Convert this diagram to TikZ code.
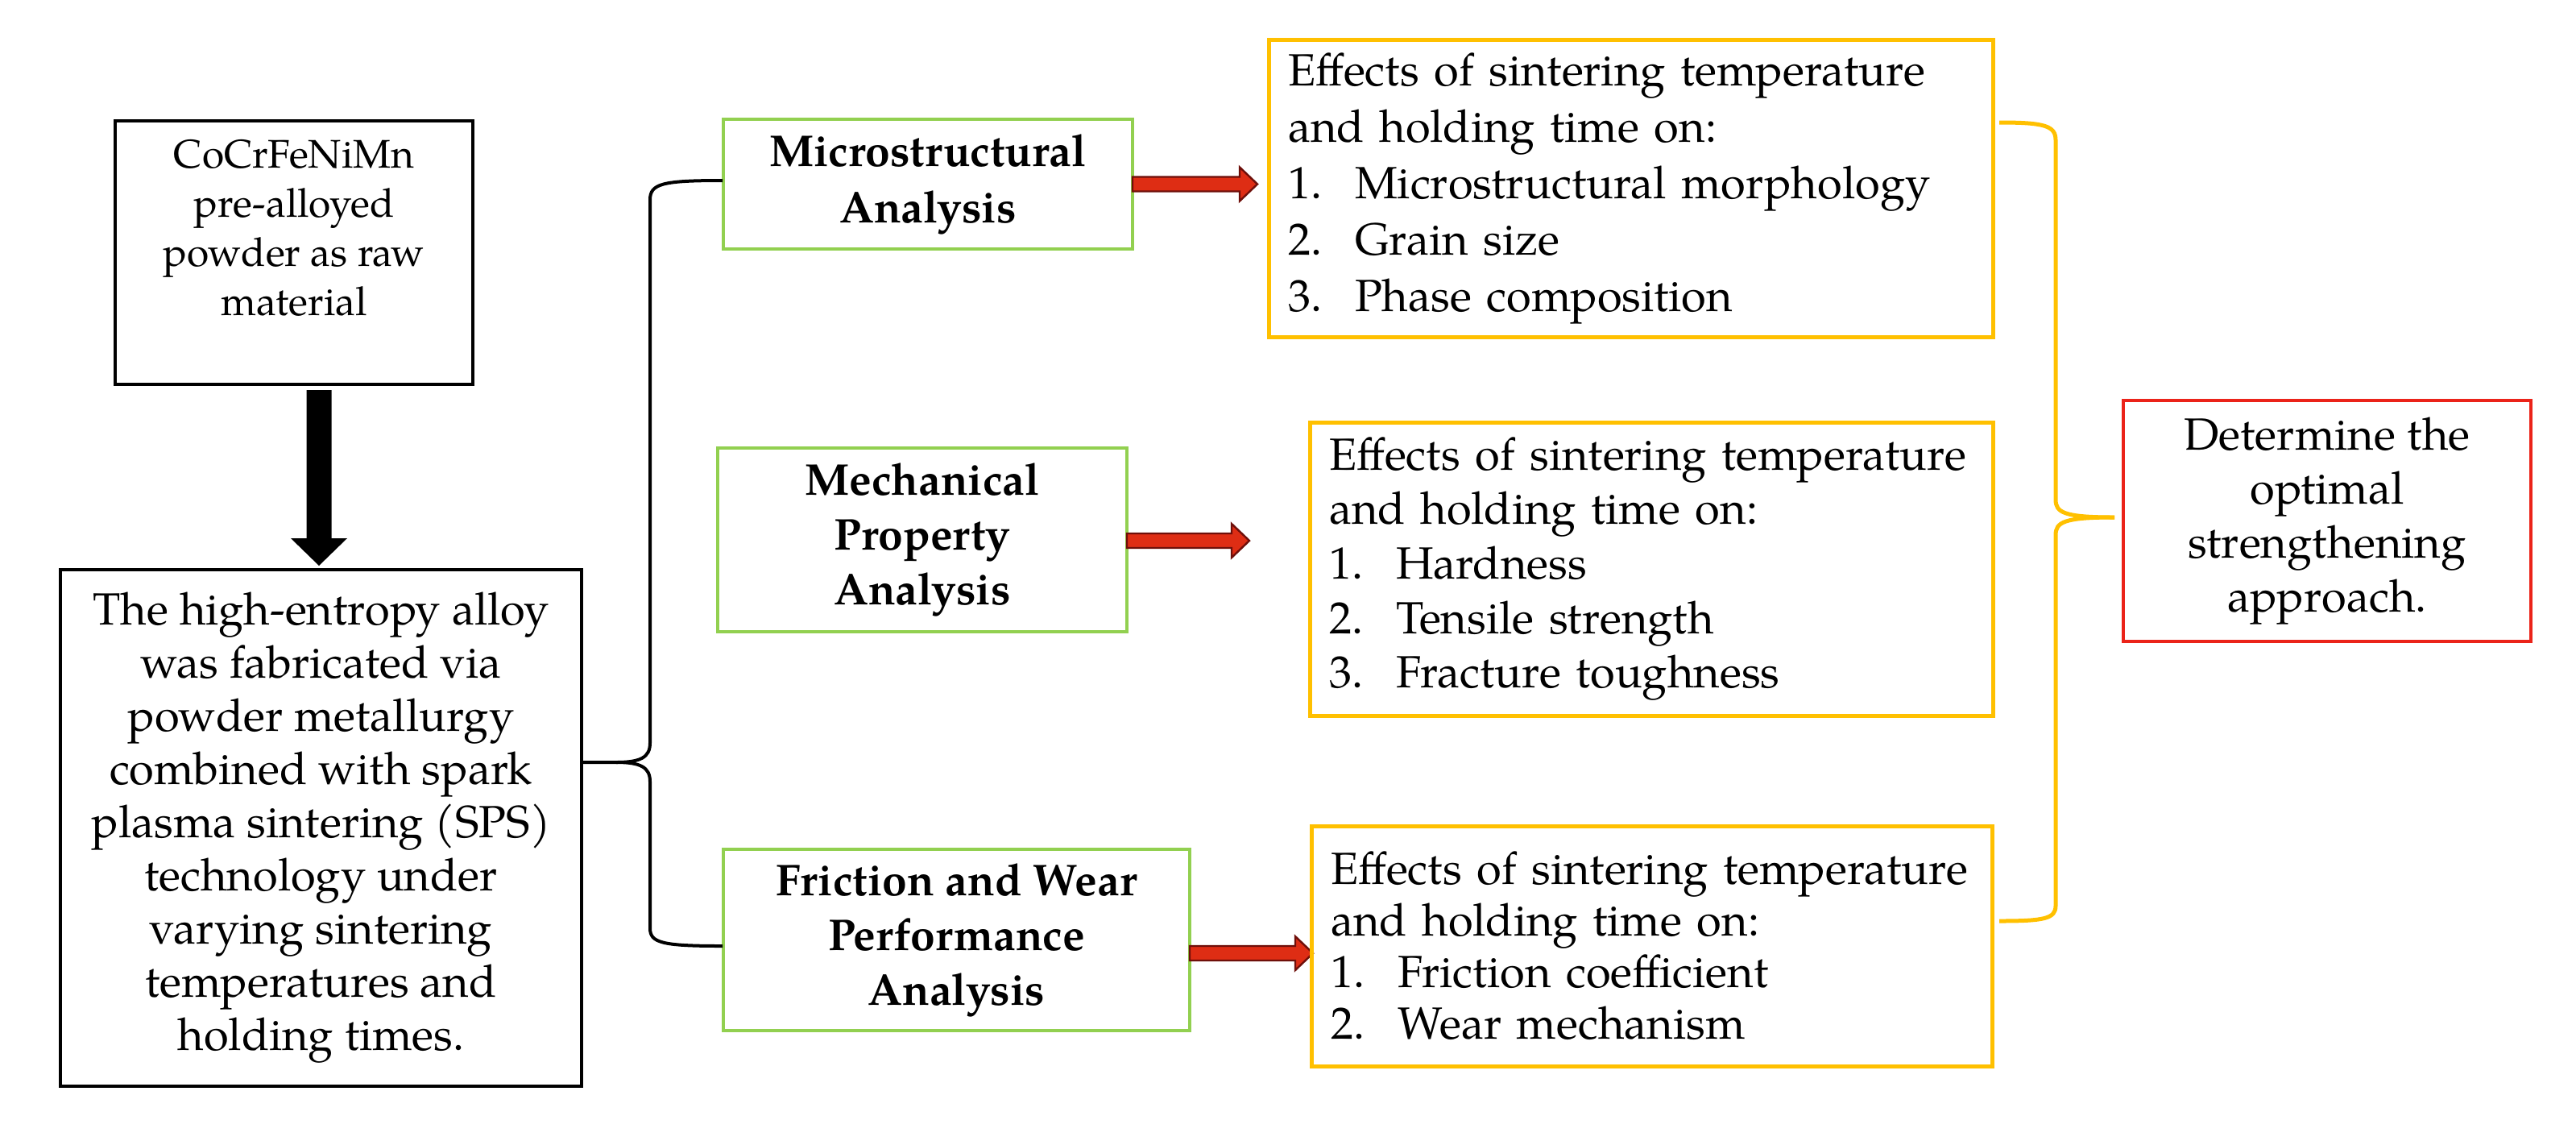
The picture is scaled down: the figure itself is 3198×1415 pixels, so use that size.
\documentclass[tikz,border=0pt]{standalone}
\usepackage{fontspec}
\setmainfont{TeX Gyre Pagella}
\usetikzlibrary{calc}
\definecolor{boxgreen}{RGB}{146,208,80}
\definecolor{boxyellow}{RGB}{255,192,0}
\definecolor{boxred}{RGB}{235,35,25}
\definecolor{arrred}{RGB}{222,45,20}
\definecolor{arrdark}{RGB}{110,15,10}
\newcommand\myblockarrow[2]{%
  \filldraw[arrowstyle] ($(#1)+(0,-9)$) -- ($(#2)+(-22,-9)$) -- ($(#2)+(-22,-21)$) -- (#2)
    -- ($(#2)+(-22,21)$) -- ($(#2)+(-22,9)$) -- ($(#1)+(0,9)$) -- cycle;}
\begin{document}
\begin{tikzpicture}[x=0.25pt,y=-0.25pt,
  blackbox/.style={draw=black,line width=1pt,inner sep=0pt},
  greenbox/.style={draw=boxgreen,line width=1pt,align=center,inner sep=0pt,
     font=\fontsize{13.8}{17.5}\selectfont\bfseries},
  yellowbox/.style={draw=boxyellow,line width=1.25pt,align=left,inner xsep=6pt,inner ysep=0pt},
  redbox/.style={draw=boxred,line width=1.2pt,align=center,inner sep=0pt,
     font=\fontsize{14}{16.75}\selectfont},
  arrowstyle/.style={fill=arrred,draw=arrdark,line width=0.6pt,line join=miter},
  bracek/.style={draw=black,line width=1pt},
  bracey/.style={draw=boxyellow,line width=1.25pt},
]
\useasboundingbox (0,0) rectangle (3198,1415);

% left column
\node[blackbox,minimum width=111pt,minimum height=81.75pt] (raw) at (365,313.5) {};
\node[align=center,font=\fontsize{12.4}{15.25}\selectfont,inner sep=0pt] (rawtext) at (365,282.5)
  {CoCrFeNiMn\\pre-alloyed\\powder as raw\\material};
\node[blackbox,minimum width=161.75pt,minimum height=160.25pt,align=center,
      font=\fontsize{14}{16.5}\selectfont] (hea) at (398.5,1027.5)
  {The high-entropy alloy\\was fabricated via\\powder metallurgy\\combined with spark\\plasma sintering (SPS)\\technology under\\varying sintering\\temperatures and\\holding times.};

% black arrow
\coordinate (dn1) at (396,484);
\coordinate (dn2) at (396,702);
\fill[black] ($(dn1)+(-15.5,0)$) -- ($(dn1)+(15.5,0)$) -- ($(dn2)+(15.5,-34)$) -- ($(dn2)+(35,-34)$)
   -- (dn2) -- ($(dn2)+(-35,-34)$) -- ($(dn2)+(-15.5,-34)$) -- cycle;

% green boxes
\node[greenbox,minimum width=127pt,minimum height=40.25pt] (g1) at (1152,228.5)
  {Microstructural\\Analysis};
\node[greenbox,minimum width=127pt,minimum height=57pt,font=\fontsize{13.8}{17}\selectfont\bfseries] (g2) at (1145,670)
  {Mechanical\\Property\\Analysis};
\node[greenbox,minimum width=144.75pt,minimum height=56.25pt,font=\fontsize{13.8}{17}\selectfont\bfseries] (g3) at (1187.5,1166.5)
  {Friction and Wear\\Performance\\Analysis};

% left brace
\coordinate (lbtip) at (722,946);
\coordinate (lbtop) at (897,224);
\coordinate (lbbot) at (897,1174);
\draw[bracek] (lbtop) .. controls (822,224) and (807,228) .. (807,248) -- (807,922)
   .. controls (807,940) and (795,946) .. (765,946) -- (lbtip);
\draw[bracek] (765,946) .. controls (795,946) and (807,952) .. (807,970) -- (807,1152)
   .. controls (807,1170) and (822,1174) .. (lbbot);

% red arrows
\coordinate (a1s) at (1406,228.5);
\coordinate (a1e) at (1561,228.5);
\coordinate (a2s) at (1399,671);
\coordinate (a2e) at (1551,671);
\coordinate (a3s) at (1477,1183);
\coordinate (a3e) at (1630,1183);
\myblockarrow{a1s}{a1e}
\myblockarrow{a2s}{a2e}
\myblockarrow{a3s}{a3e}

% yellow boxes
\node[yellowbox,text width=212.75pt,minimum height=92.25pt,font=\fontsize{14}{17.5}\selectfont] (y1) at (2024.5,233.5)
  {Effects of sintering temperature\\and holding time on:\\
   \makebox[20.75pt][l]{1.}Microstructural morphology\\
   \makebox[20.75pt][l]{2.}Grain size\\
   \makebox[20.75pt][l]{3.}Phase composition};
\node[yellowbox,text width=200pt,minimum height=91pt,font=\fontsize{14}{16.9}\selectfont] (y2) at (2050,706)
  {Effects of sintering temperature\\and holding time on:\\
   \makebox[20.75pt][l]{1.}Hardness\\
   \makebox[20.75pt][l]{2.}Tensile strength\\
   \makebox[20.75pt][l]{3.}Fracture toughness};
\node[yellowbox,text width=199.25pt,minimum height=74.5pt,font=\fontsize{14}{16}\selectfont] (y3) at (2050.5,1174)
  {Effects of sintering temperature\\and holding time on:\\
   \makebox[20.75pt][l]{1.}Friction coefficient\\
   \makebox[20.75pt][l]{2.}Wear mechanism};

% yellow brace
\coordinate (ybtop) at (2482,152);
\coordinate (ybbot) at (2482,1143);
\coordinate (ybtip) at (2625,642);
\draw[bracey] (ybtop) .. controls (2538,152) and (2552,156) .. (2552,174) -- (2552,620)
   .. controls (2552,636) and (2562,642) .. (ybtip);
\draw[bracey] (ybtip) .. controls (2562,642) and (2552,648) .. (2552,664) -- (2552,1124)
   .. controls (2552,1140) and (2538,1143) .. (ybbot);

% red box
\node[redbox,minimum width=126.5pt,minimum height=74.75pt] (opt) at (2889,646.5)
  {Determine the\\optimal\\strengthening\\approach.};
\end{tikzpicture}
\end{document}
